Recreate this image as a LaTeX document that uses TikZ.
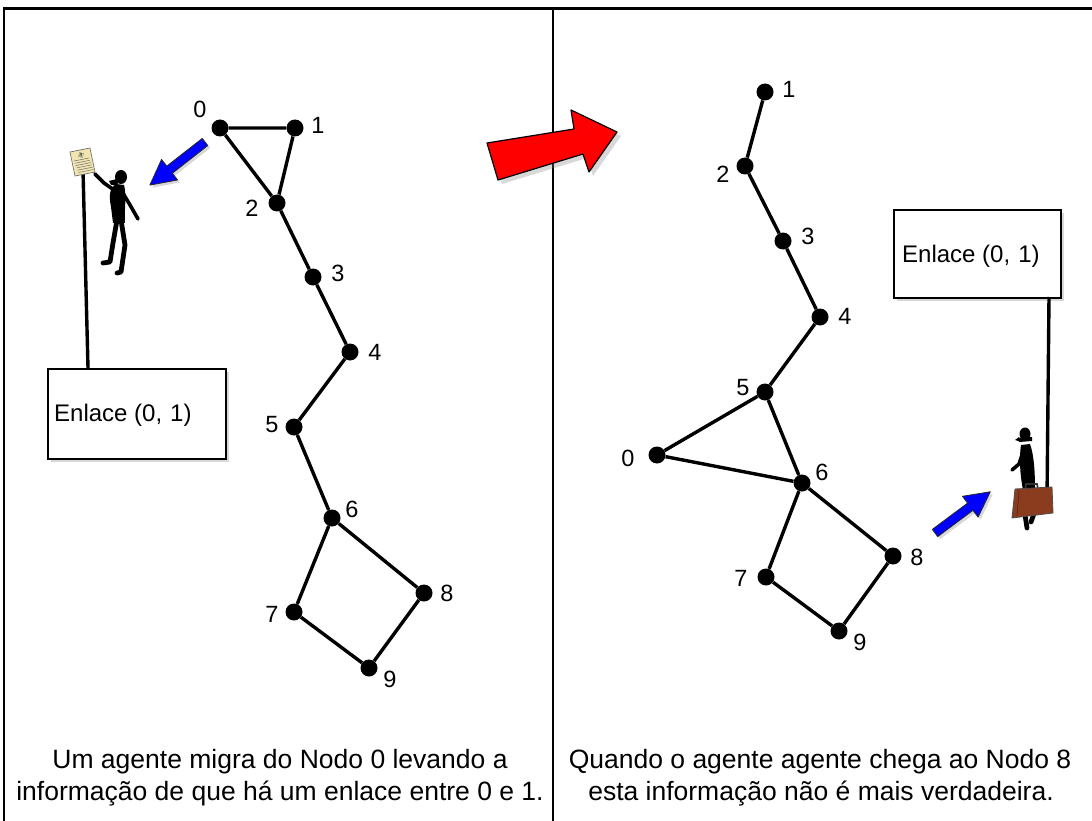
\documentclass[tikz,border=0pt]{standalone}
\usepackage{fontspec}
\setmainfont{Liberation Sans}
\usetikzlibrary{shadows}
\definecolor{signpaper}{RGB}{240,228,176}
\definecolor{casebrown}{RGB}{140,60,30}
\begin{document}
\begin{tikzpicture}[x=1pt,y=-1pt,
  vertex/.style={circle,fill=black,inner sep=0pt,minimum size=17pt},
  edge/.style={line width=3.4pt},
  vlabel/.style={font=\fontsize{23.5}{24}\selectfont,inner sep=0pt},
  caption/.style={font=\fontsize{26.5}{32}\selectfont,inner sep=0pt,anchor=base},
  infobox/.style={draw,line width=1.6pt,fill=white,inner sep=0pt,anchor=north west,
    drop shadow={shadow xshift=3pt,shadow yshift=-3pt,opacity=0.3}},
  boxtext/.style={font=\fontsize{24}{24}\selectfont,inner sep=0pt,anchor=base west},
  pole/.style={line width=3.4pt},
  frameline/.style={line width=2pt},
  bluearrow/.style={fill=blue,draw=black!85,line width=0.8pt,line join=round,
    drop shadow={shadow xshift=2.5pt,shadow yshift=-2.5pt,opacity=0.3}},
  redarrow/.style={fill=red,draw=black,line width=1.2pt,line join=round,
    drop shadow={shadow xshift=4pt,shadow yshift=-4pt,opacity=0.3}},
  limb/.style={line width=3.6pt,line cap=round,line join=round},
  leg/.style={line width=4.8pt,line cap=round,line join=round}
]
\useasboundingbox (0,0) rectangle (1092,821);
\fill[white] (0,0) rectangle (1092,821);

% frame of the two panels
\draw[line width=3pt] (3,9) -- (1092,9);
\draw[frameline] (4,8) -- (4,821);
\draw[frameline] (553,8) -- (553,821);

% ---------- left panel: graph before the move ----------
\node[vertex] (L0) at (220,128) {};
\node[vertex] (L1) at (295,128) {};
\node[vertex] (L2) at (277,203) {};
\node[vertex] (L3) at (313,277) {};
\node[vertex] (L4) at (350,352) {};
\node[vertex] (L5) at (294,427) {};
\node[vertex] (L6) at (332,518) {};
\node[vertex] (L7) at (294,612) {};
\node[vertex] (L8) at (424,593) {};
\node[vertex] (L9) at (369,668) {};
\draw[edge] (L0) -- (L1) -- (L2) -- (L0);
\draw[edge] (L2) -- (L3) -- (L4) -- (L5) -- (L6) -- (L8) -- (L9) -- (L7) -- (L6);
\node[vlabel] (lL0) at (200,109) {0};
\node[vlabel] (lL1) at (318,125) {1};
\node[vlabel] (lL2) at (252,208) {2};
\node[vlabel] (lL3) at (338,273) {3};
\node[vlabel] (lL4) at (375,352) {4};
\node[vlabel] (lL5) at (272,425) {5};
\node[vlabel] (lL6) at (352,509) {6};
\node[vlabel] (lL7) at (272,614) {7};
\node[vlabel] (lL8) at (447,593) {8};
\node[vlabel] (lL9) at (390,679) {9};

% sign post held by the agent
\node[infobox,minimum width=178pt,minimum height=90pt] (boxL) at (47,368) {};
\node[boxtext] (tL) at (54,421) {Enlace (0,\,\,1)};
\coordinate (signL) at (83,170);
\coordinate (footL) at (88,368);
\draw[pole] (signL) -- (footL);
\filldraw[fill=signpaper,draw=black!60,line width=0.6pt] (70,152) -- (90,148) -- (95,172) -- (75,176) -- cycle;
\node[inner sep=0pt,font=\fontsize{5}{5}\selectfont,rotate=-12,draw=black!60,line width=0.3pt,minimum size=4pt] (signtxt) at (81,155) {8};
\foreach \k in {0,...,5}
  \draw[black!55,line width=0.5pt] ({74+0.22*\k*4},{161+\k*2.3}) -- ({89+0.22*\k*4},{158+\k*2.3});

% left agent silhouette
\fill (121,177) ellipse (6 and 7);
\fill (117,179) -- (109,181) -- (111,185) -- (118,185) -- cycle;
\fill (116,184) .. controls (109,188) and (109,197) .. (111,207) -- (113,223) -- (125,223)
      .. controls (124,210) and (127,196) .. (124,185) -- cycle;
\draw[limb] (114,190) -- (104,183) -- (95,174);
\draw[limb] (121,190) -- (130,205) -- (138,219);
\draw[leg] (117,220) -- (113,243) -- (110,262) -- (103,263);
\draw[leg] (121,220) -- (125,245) -- (121,272) -- (117,273);

% blue arrow towards the agent
\filldraw[bluearrow,shift={(205,142)},rotate=218]
  (0,-4.5) -- (45,-4.5) -- (45,-13) -- (70,0) -- (45,13) -- (45,4.5) -- (0,4.5) -- cycle;

% caption of the left panel
\node[caption] (capL1) at (280,768) {Um agente migra do Nodo 0 levando a};
\node[caption] (capL2) at (280,800) {informação de que há um enlace entre 0 e 1.};

% ---------- red arrow between the panels ----------
\filldraw[redarrow] (487,143) -- (574,129) -- (571,110) -- (617,132) -- (589,172) -- (583,154) -- (498,180) -- cycle;

% ---------- right panel: graph after the move ----------
\node[vertex] (R1) at (765,92) {};
\node[vertex] (R2) at (745,166) {};
\node[vertex] (R3) at (783,241) {};
\node[vertex] (R4) at (820,317) {};
\node[vertex] (R5) at (765,392) {};
\node[vertex] (R0) at (657,455) {};
\node[vertex] (R6) at (802,483) {};
\node[vertex] (R8) at (893,556) {};
\node[vertex] (R7) at (766,577) {};
\node[vertex] (R9) at (839,631) {};
\draw[edge] (R1) -- (R2) -- (R3) -- (R4) -- (R5) -- (R0) -- (R6) -- (R5);
\draw[edge] (R6) -- (R8) -- (R9) -- (R7) -- (R6);
\node[vlabel] (lR1) at (789,89) {1};
\node[vlabel] (lR2) at (723,174) {2};
\node[vlabel] (lR3) at (808,236) {3};
\node[vlabel] (lR4) at (845,316) {4};
\node[vlabel] (lR5) at (743,388) {5};
\node[vlabel] (lR0) at (628,458) {0};
\node[vlabel] (lR6) at (822,472) {6};
\node[vlabel] (lR8) at (917,557) {8};
\node[vlabel] (lR7) at (741,578) {7};
\node[vlabel] (lR9) at (860,642) {9};

% sign carried by the agent
\node[infobox,minimum width=167pt,minimum height=88pt] (boxR) at (893,209) {};
\node[boxtext] (tR) at (902,262) {Enlace (0,\,\,1)};
\coordinate (topR) at (1049,297);
\coordinate (gripR) at (1047,500);
\draw[pole] (topR) -- (gripR);

% right agent silhouette
\fill (1025,434) ellipse (5.5 and 6.5);
\fill (1019,437) -- (1015,440) -- (1021,442) -- cycle;
\fill (1019,438) -- (1032,437) -- (1032,441) -- (1019,442) -- cycle;
\fill (1021,445) .. controls (1019,458) and (1020,475) .. (1023,490) -- (1035,490)
      .. controls (1035,472) and (1034,455) .. (1030,444) -- cycle;
\draw[limb] (1023,452) -- (1019,464) -- (1012,470);
\draw[leg] (1027,488) -- (1024,508) -- (1027,528);
\draw[leg] (1032,488) -- (1036,508) -- (1031,522);
\draw[line width=1.6pt,draw=black!80] (1025,490) -- (1026,484) -- (1037,484) -- (1038,489);
\filldraw[fill=casebrown,draw=black!70,line width=0.8pt,line join=round]
  (1015,489) -- (1052,487) -- (1053,513) -- (1012,518) -- cycle;
\draw[casebrown!60!black,line width=0.6pt] (1019,490) -- (1017,516);

% blue arrow towards the agent
\filldraw[bluearrow,shift={(935,533)},rotate=36.7]
  (0,-4.5) -- (44,-4.5) -- (44,-13) -- (69,0) -- (44,13) -- (44,4.5) -- (0,4.5) -- cycle;

% caption of the right panel
\node[caption] (capR1) at (820,768) {Quando o agente agente chega ao Nodo 8};
\node[caption] (capR2) at (821,800) {esta informação não é mais verdadeira.};
\end{tikzpicture}
\end{document}
